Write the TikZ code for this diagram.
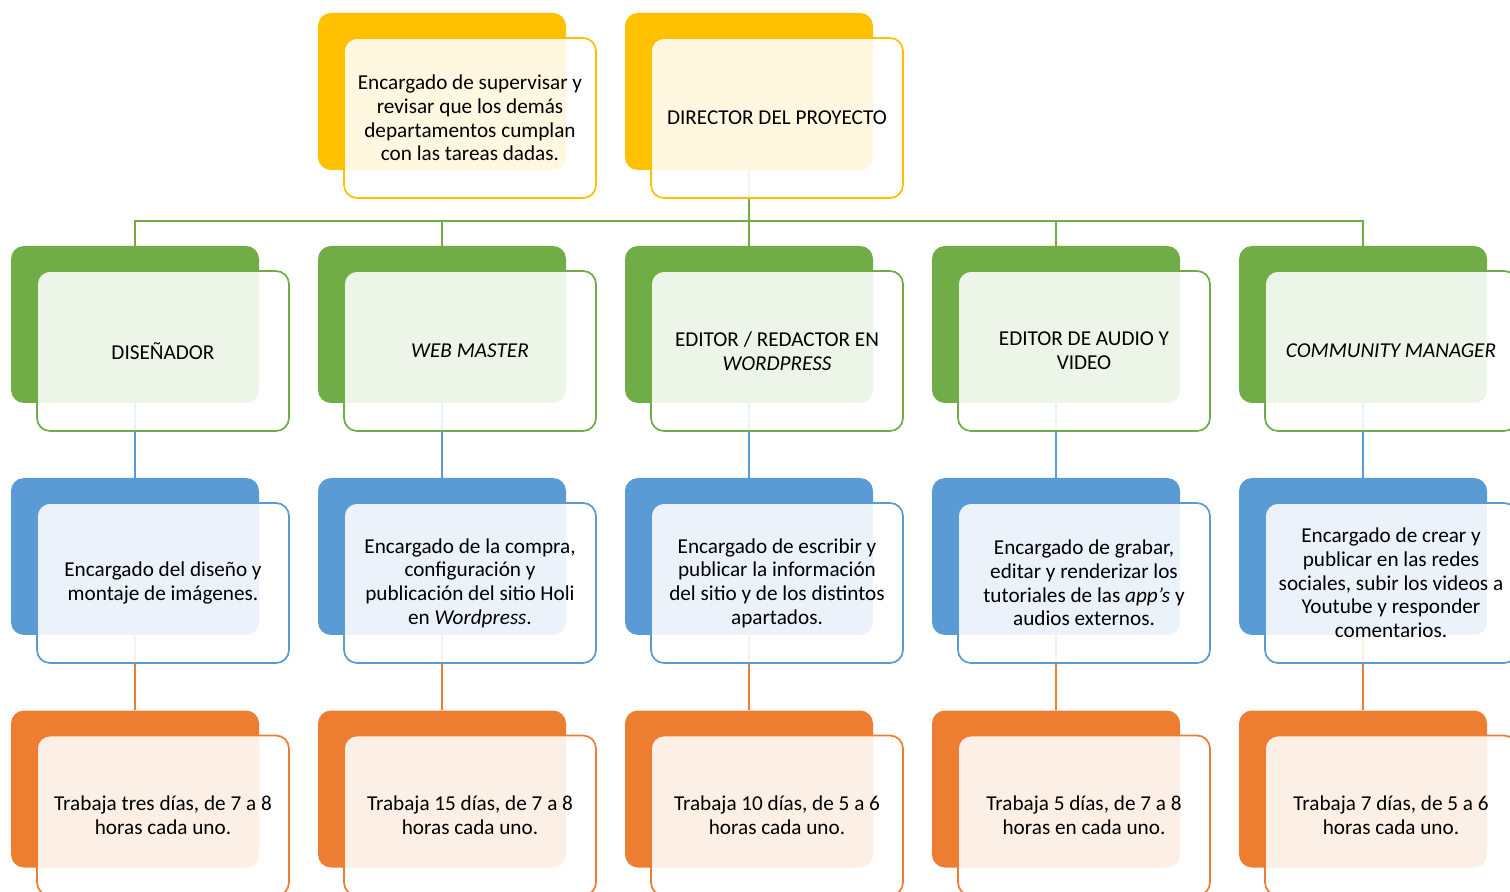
\documentclass[tikz,border=0pt]{standalone}
\usepackage{fontspec}
\setmainfont{Carlito}
\usetikzlibrary{calc}

\definecolor{ambar}{HTML}{FFC000}
\definecolor{verde}{HTML}{70AD47}
\definecolor{azul}{HTML}{5B9BD5}
\definecolor{naranja}{HTML}{ED7D31}

\tikzset{
	fondo/.style={rectangle, rounded corners=6.5pt, fill=#1, minimum width=124pt, minimum height=78.5pt, inner sep=0pt},
	frente/.style={rectangle, rounded corners=6.5pt, draw=#1, line width=0.85pt, fill=white, fill opacity=0.88, text opacity=1, minimum width=126pt, minimum height=80pt, inner sep=0pt, align=center, font=\fontsize{10.6}{11.85}\selectfont},
	enlace/.style={draw=#1, line width=1pt},
}

\begin{document}
\begin{tikzpicture}[x=0.5pt, y=-0.5pt]
			%%%%% START %%%%%
			\useasboundingbox (0, 0) rectangle (1510, 892);
			
			\node[fondo=ambar] (b-sup) at (442, 91.5) {};
			\node[fondo=ambar] (b-dir) at (749, 91.5) {};
			
			\node[fondo=verde] (b-dis) at (135, 324.5) {};
			\node[fondo=verde] (b-web) at (442, 324.5) {};
			\node[fondo=verde] (b-edi) at (749, 324.5) {};
			\node[fondo=verde] (b-aud) at (1056, 324.5) {};
			\node[fondo=verde] (b-com) at (1363, 324.5) {};
			
			\node[fondo=azul] (c-dis) at (135, 556.5) {};
			\node[fondo=azul] (c-web) at (442, 556.5) {};
			\node[fondo=azul] (c-edi) at (749, 556.5) {};
			\node[fondo=azul] (c-aud) at (1056, 556.5) {};
			\node[fondo=azul] (c-com) at (1363, 556.5) {};
			
			\node[fondo=naranja] (d-dis) at (135, 789) {};
			\node[fondo=naranja] (d-web) at (442, 789) {};
			\node[fondo=naranja] (d-edi) at (749, 789) {};
			\node[fondo=naranja] (d-aud) at (1056, 789) {};
			\node[fondo=naranja] (d-com) at (1363, 789) {};
			
			% conectores
			\draw[enlace=verde] (b-dir.south) -- ++(0, 51) -| (b-dis.north);
			\draw[enlace=verde] (b-dir.south) -- ++(0, 51) -| (b-web.north);
			\draw[enlace=verde] (b-dir.south) -- (b-edi.north);
			\draw[enlace=verde] (b-dir.south) -- ++(0, 51) -| (b-aud.north);
			\draw[enlace=verde] (b-dir.south) -- ++(0, 51) -| (b-com.north);
			
			\draw[enlace=azul] (b-dis.south) -- (c-dis.north);
			\draw[enlace=azul] (b-web.south) -- (c-web.north);
			\draw[enlace=azul] (b-edi.south) -- (c-edi.north);
			\draw[enlace=azul] (b-aud.south) -- (c-aud.north);
			\draw[enlace=azul] (b-com.south) -- (c-com.north);
			
			\draw[enlace=naranja] (c-dis.south) -- (d-dis.north);
			\draw[enlace=naranja] (c-web.south) -- (d-web.north);
			\draw[enlace=naranja] (c-edi.south) -- (d-edi.north);
			\draw[enlace=naranja] (c-aud.south) -- (d-aud.north);
			\draw[enlace=naranja] (c-com.south) -- (d-com.north);
			
			% cajas delanteras
			\node[frente=ambar] (f-sup) at ($(b-sup)+(28, 26.5)$) {Encargado de supervisar y\\revisar que los demás\\departamentos cumplan\\con las tareas dadas.};
			\node[frente=ambar] (f-dir) at ($(b-dir)+(28, 26.5)$) {DIRECTOR DEL PROYECTO};
			
			\node[frente=verde] (f-dis) at ($(b-dis)+(28, 26.5)$) {DISEÑADOR};
			\node[frente=verde] (f-web) at ($(b-web)+(28, 26.5)$) {\textit{WEB MASTER}};
			\node[frente=verde] (f-edi) at ($(b-edi)+(28, 26.5)$) {EDITOR / REDACTOR EN\\\textit{WORDPRESS}};
			\node[frente=verde] (f-aud) at ($(b-aud)+(28, 26.5)$) {EDITOR DE AUDIO Y\\VIDEO};
			\node[frente=verde] (f-com) at ($(b-com)+(28, 26.5)$) {\textit{COMMUNITY MANAGER}};
			
			\node[frente=azul] (g-dis) at ($(c-dis)+(28, 26.5)$) {Encargado del diseño y\\montaje de imágenes.};
			\node[frente=azul] (g-web) at ($(c-web)+(28, 26.5)$) {Encargado de la compra,\\configuración y\\publicación del sitio Holi\\en \textit{Wordpress}.};
			\node[frente=azul] (g-edi) at ($(c-edi)+(28, 26.5)$) {Encargado de escribir y\\publicar la información\\del sitio y de los distintos\\apartados.};
			\node[frente=azul] (g-aud) at ($(c-aud)+(28, 26.5)$) {Encargado de grabar,\\editar y renderizar los\\tutoriales de las \textit{app's} y\\audios externos.};
			\node[frente=azul] (g-com) at ($(c-com)+(28, 26.5)$) {Encargado de crear y\\publicar en las redes\\sociales, subir los videos a\\Youtube y responder\\comentarios.};
			
			\node[frente=naranja] (h-dis) at ($(d-dis)+(28, 26.5)$) {Trabaja tres días, de 7 a 8\\horas cada uno.};
			\node[frente=naranja] (h-web) at ($(d-web)+(28, 26.5)$) {Trabaja 15 días, de 7 a 8\\horas cada uno.};
			\node[frente=naranja] (h-edi) at ($(d-edi)+(28, 26.5)$) {Trabaja 10 días, de 5 a 6\\horas cada uno.};
			\node[frente=naranja] (h-aud) at ($(d-aud)+(28, 26.5)$) {Trabaja 5 días, de 7 a 8\\horas en cada uno.};
			\node[frente=naranja] (h-com) at ($(d-com)+(28, 26.5)$) {Trabaja 7 días, de 5 a 6\\horas cada uno.};
			
			%%%%% END %%%%%
\end{tikzpicture}
\end{document}
